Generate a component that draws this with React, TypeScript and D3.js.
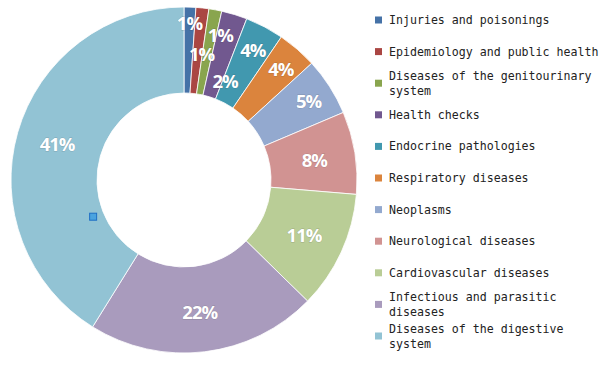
import React from 'react';
import { pie, arc } from 'd3';

// slices, clockwise from 12 o'clock
const categories = [
  'Injuries and poisonings',
  'Epidemiology and public health',
  'Diseases of the genitourinary system',
  'Health checks',
  'Endocrine pathologies',
  'Respiratory diseases',
  'Neoplasms',
  'Neurological diseases',
  'Cardiovascular diseases',
  'Infectious and parasitic diseases',
  'Diseases of the digestive system',
];
const shares = [1.1, 1.2, 1.2, 2.4, 3.6, 3.7, 5.4, 7.7, 11, 21.5, 41.1];
// legend text as wrapped in the original
const legendLines = [
  ['Injuries and poisonings'],
  ['Epidemiology and public health'],
  ['Diseases of the genitourinary', 'system'],
  ['Health checks'],
  ['Endocrine pathologies'],
  ['Respiratory diseases'],
  ['Neoplasms'],
  ['Neurological diseases'],
  ['Cardiovascular diseases'],
  ['Infectious and parasitic', 'diseases'],
  ['Diseases of the digestive', 'system'],
];
const colors = [
  '#4572A7', '#AA4643', '#89A54E', '#71588F', '#4198AF', '#DB843D',
  '#93A9CF', '#D19392', '#B9CD96', '#A99BBD', '#92C3D4',
];

const W = 609;
const H = 372;
const cx = 184;
const cy = 180;
const outerR = 173;
const innerR = 87;
const deg = Math.PI / 180;

export default function App() {
  const total = shares.reduce((a, b) => a + b, 0);
  const slices = pie<number>().sort(null).value(d => d)(shares);
  const arcGen = arc<any>().innerRadius(innerR).outerRadius(outerR);

  // tiny slices: fan labels out clockwise and stagger them in/out
  const labelPos = (s: any, i: number) => {
    let a = (s.startAngle + s.endAngle) / 2;
    let r = s.data < 6 ? 148 : 132;
    if (s.data < 3) {
      a += i * 1.8 * deg;
      r = i % 2 === 0 ? 158 - i * 4 : 128 - (i - 1) * 10;
    }
    return [Math.sin(a) * r, -Math.cos(a) * r];
  };

  // the little blue marker sitting in the digestive slice
  const markA = 248 * deg;
  const markX = cx + Math.sin(markA) * 98;
  const markY = cy - Math.cos(markA) * 98;

  return (
    <svg
      width={W}
      height={H}
      style={{ position: 'absolute', left: 0, top: 0, background: '#fff' }}
    >
      <g transform={`translate(${cx},${cy})`}>
        {slices.map((s, i) => (
          <path key={i} d={arcGen(s) as string} fill={colors[i]} stroke="#fff" strokeWidth={0.8} />
        ))}
        {slices.map((s, i) => {
          const [x, y] = labelPos(s, i);
          return (
            <text
              key={'l' + i}
              x={x}
              y={y}
              textAnchor="middle"
              dominantBaseline="central"
              fill="#fff"
              fontFamily="'Open Sans', 'Liberation Sans', sans-serif"
              fontWeight={700}
              fontSize={18.5}
              letterSpacing={-1}
              style={{ paintOrder: 'stroke' }}
              stroke="rgba(60,60,60,0.25)"
              strokeWidth={0.8}
            >
              {Math.round((s.data / total) * 100)}%
            </text>
          );
        })}
      </g>
      <rect
        x={markX - 3.5}
        y={markY - 3.5}
        width={7}
        height={7}
        fill="#4aa3df"
        stroke="#1f6fc5"
        strokeWidth={1}
      />
      <g fontFamily="'DejaVu Sans Mono', monospace" fontSize={11.6} fill="#222">
        {legendLines.map((lines, i) => {
          const y = 20 + i * 31.6;
          return (
            <g key={'g' + i}>
              <rect x={375} y={y - 3.5} width={7} height={7} fill={colors[i]} />
              {lines.map((t, j) => (
                <text
                  key={j}
                  x={389}
                  y={lines.length > 1 ? y - 7 + j * 14.5 : y}
                  dominantBaseline="central"
                >
                  {t}
                </text>
              ))}
            </g>
          );
        })}
      </g>
    </svg>
  );
}
